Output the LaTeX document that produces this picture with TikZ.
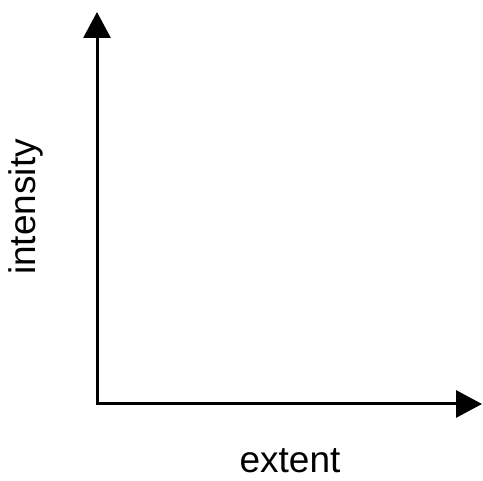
\documentclass[tikz,border=0pt]{standalone}
\usepackage{fontspec}
\setmainfont{Liberation Sans}
\usetikzlibrary{arrows.meta}
\definecolor{AxisBlack}{HTML}{000000}

\begin{document}
\begin{tikzpicture}[x=1pt, y=1pt, >={Triangle[length=26pt, width=27pt]},
    axislabel/.style={font=\fontsize{37}{40}\selectfont, text=AxisBlack, inner sep=0pt}]
  \useasboundingbox (0,0) rectangle (483,481);
  \coordinate (origin) at (97,77);
  \coordinate (ytip) at (97,469);
  \coordinate (xtip) at (482,77);
  \draw[<->, AxisBlack, line width=3pt] (ytip) -- (origin) -- (xtip);
  \node[axislabel, rotate=90, anchor=base] (ylab) at (35,274) {intensity};
  \node[axislabel, anchor=base] (xlab) at (290,8) {extent};
\end{tikzpicture}
\end{document}
